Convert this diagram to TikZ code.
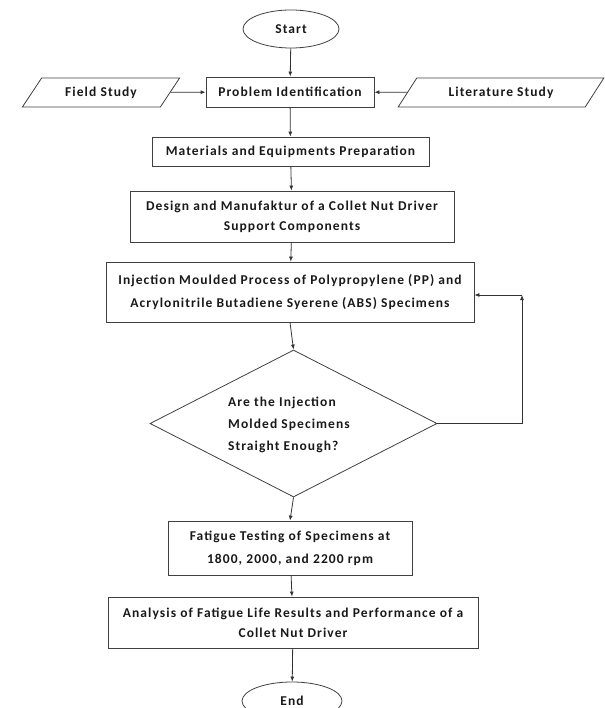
\documentclass[tikz,border=0pt]{standalone}
\usepackage{fontspec}
\setmainfont{Carlito}[LetterSpace=8]
\usetikzlibrary{shapes.geometric,arrows.meta}
\begin{document}
\begin{tikzpicture}[x=1pt,y=-1pt,
  every node/.style={font=\bfseries\fontsize{13.5}{20}\selectfont, text=black!90, align=center},
  box/.style={draw=black!75, line width=0.8pt, rectangle, inner sep=0pt},
  term/.style={draw=black!75, line width=0.8pt, ellipse, inner sep=0pt},
  io/.style={draw=black!75, line width=0.8pt, trapezium, trapezium left angle=45, trapezium right angle=135, trapezium stretches=true, inner sep=0pt},
  arr/.style={draw=black!80, line width=0.8pt, -{Latex[length=5pt,width=4pt]}},
  wide/.style={font=\bfseries\fontsize{13.5}{23}\selectfont}]
\useasboundingbox (0,0) rectangle (604,708);
\node[term, minimum width=96, minimum height=38] (start) at (291,29) {Start};
\node[box, minimum width=168, minimum height=30] (pi) at (290,92) {Problem Identification};
\node[io, minimum width=158, minimum height=29] (fs) at (101,92.5) {Field Study};
\node[io, minimum width=206, minimum height=29] (lit) at (501,92.5) {Literature Study};
\node[box, minimum width=277, minimum height=29] (mat) at (290.5,151.5) {Materials and Equipments Preparation};
\node[box, minimum width=324, minimum height=51] (des) at (292,216.5) {Design and Manufaktur of a Collet Nut Driver\\Support Components};
\node[box, wide, minimum width=368, minimum height=60] (inj) at (290,292) {Injection Moulded Process of Polypropylene (PP) and\\Acrylonitrile Butadiene Syerene (ABS) Specimens};
\node[draw=black!75, line width=0.8pt, diamond, inner sep=0pt, minimum width=287, minimum height=147] (dec) at (293.5,423.5) {};
\node[align=left, font=\bfseries\fontsize{13.5}{22}\selectfont] (dect) at (289,425) {Are the Injection\\Molded Specimens\\Straight Enough?};
\node[box, wide, minimum width=244, minimum height=54] (fat) at (290,548) {Fatigue Testing of Specimens at\\1800, 2000, and 2200 rpm};
\node[box, minimum width=370, minimum height=51] (ana) at (293,622.5) {Analysis of Fatigue Life Results and Performance of a\\Collet Nut Driver};
\node[term, minimum width=100, minimum height=38] (end) at (292,701) {End};
\coordinate (corner) at (522,295);
\draw[arr] (start) -- (pi);
\draw[arr] (fs) -- (pi);
\draw[arr] (lit) -- (pi);
\draw[arr] (pi) -- (mat);
\draw[arr] (mat) -- (des);
\draw[arr] (des) -- (inj);
\draw[arr] (inj.south) -- (dec.north);
\draw[arr] (dec.south) -- (fat.north);
\draw[arr] (fat) -- (ana);
\draw[arr] (ana) -- (end);
\draw[arr] (dec.east) -| (corner);
\draw[arr] (corner) -- (inj.east |- corner);
\end{tikzpicture}
\end{document}
